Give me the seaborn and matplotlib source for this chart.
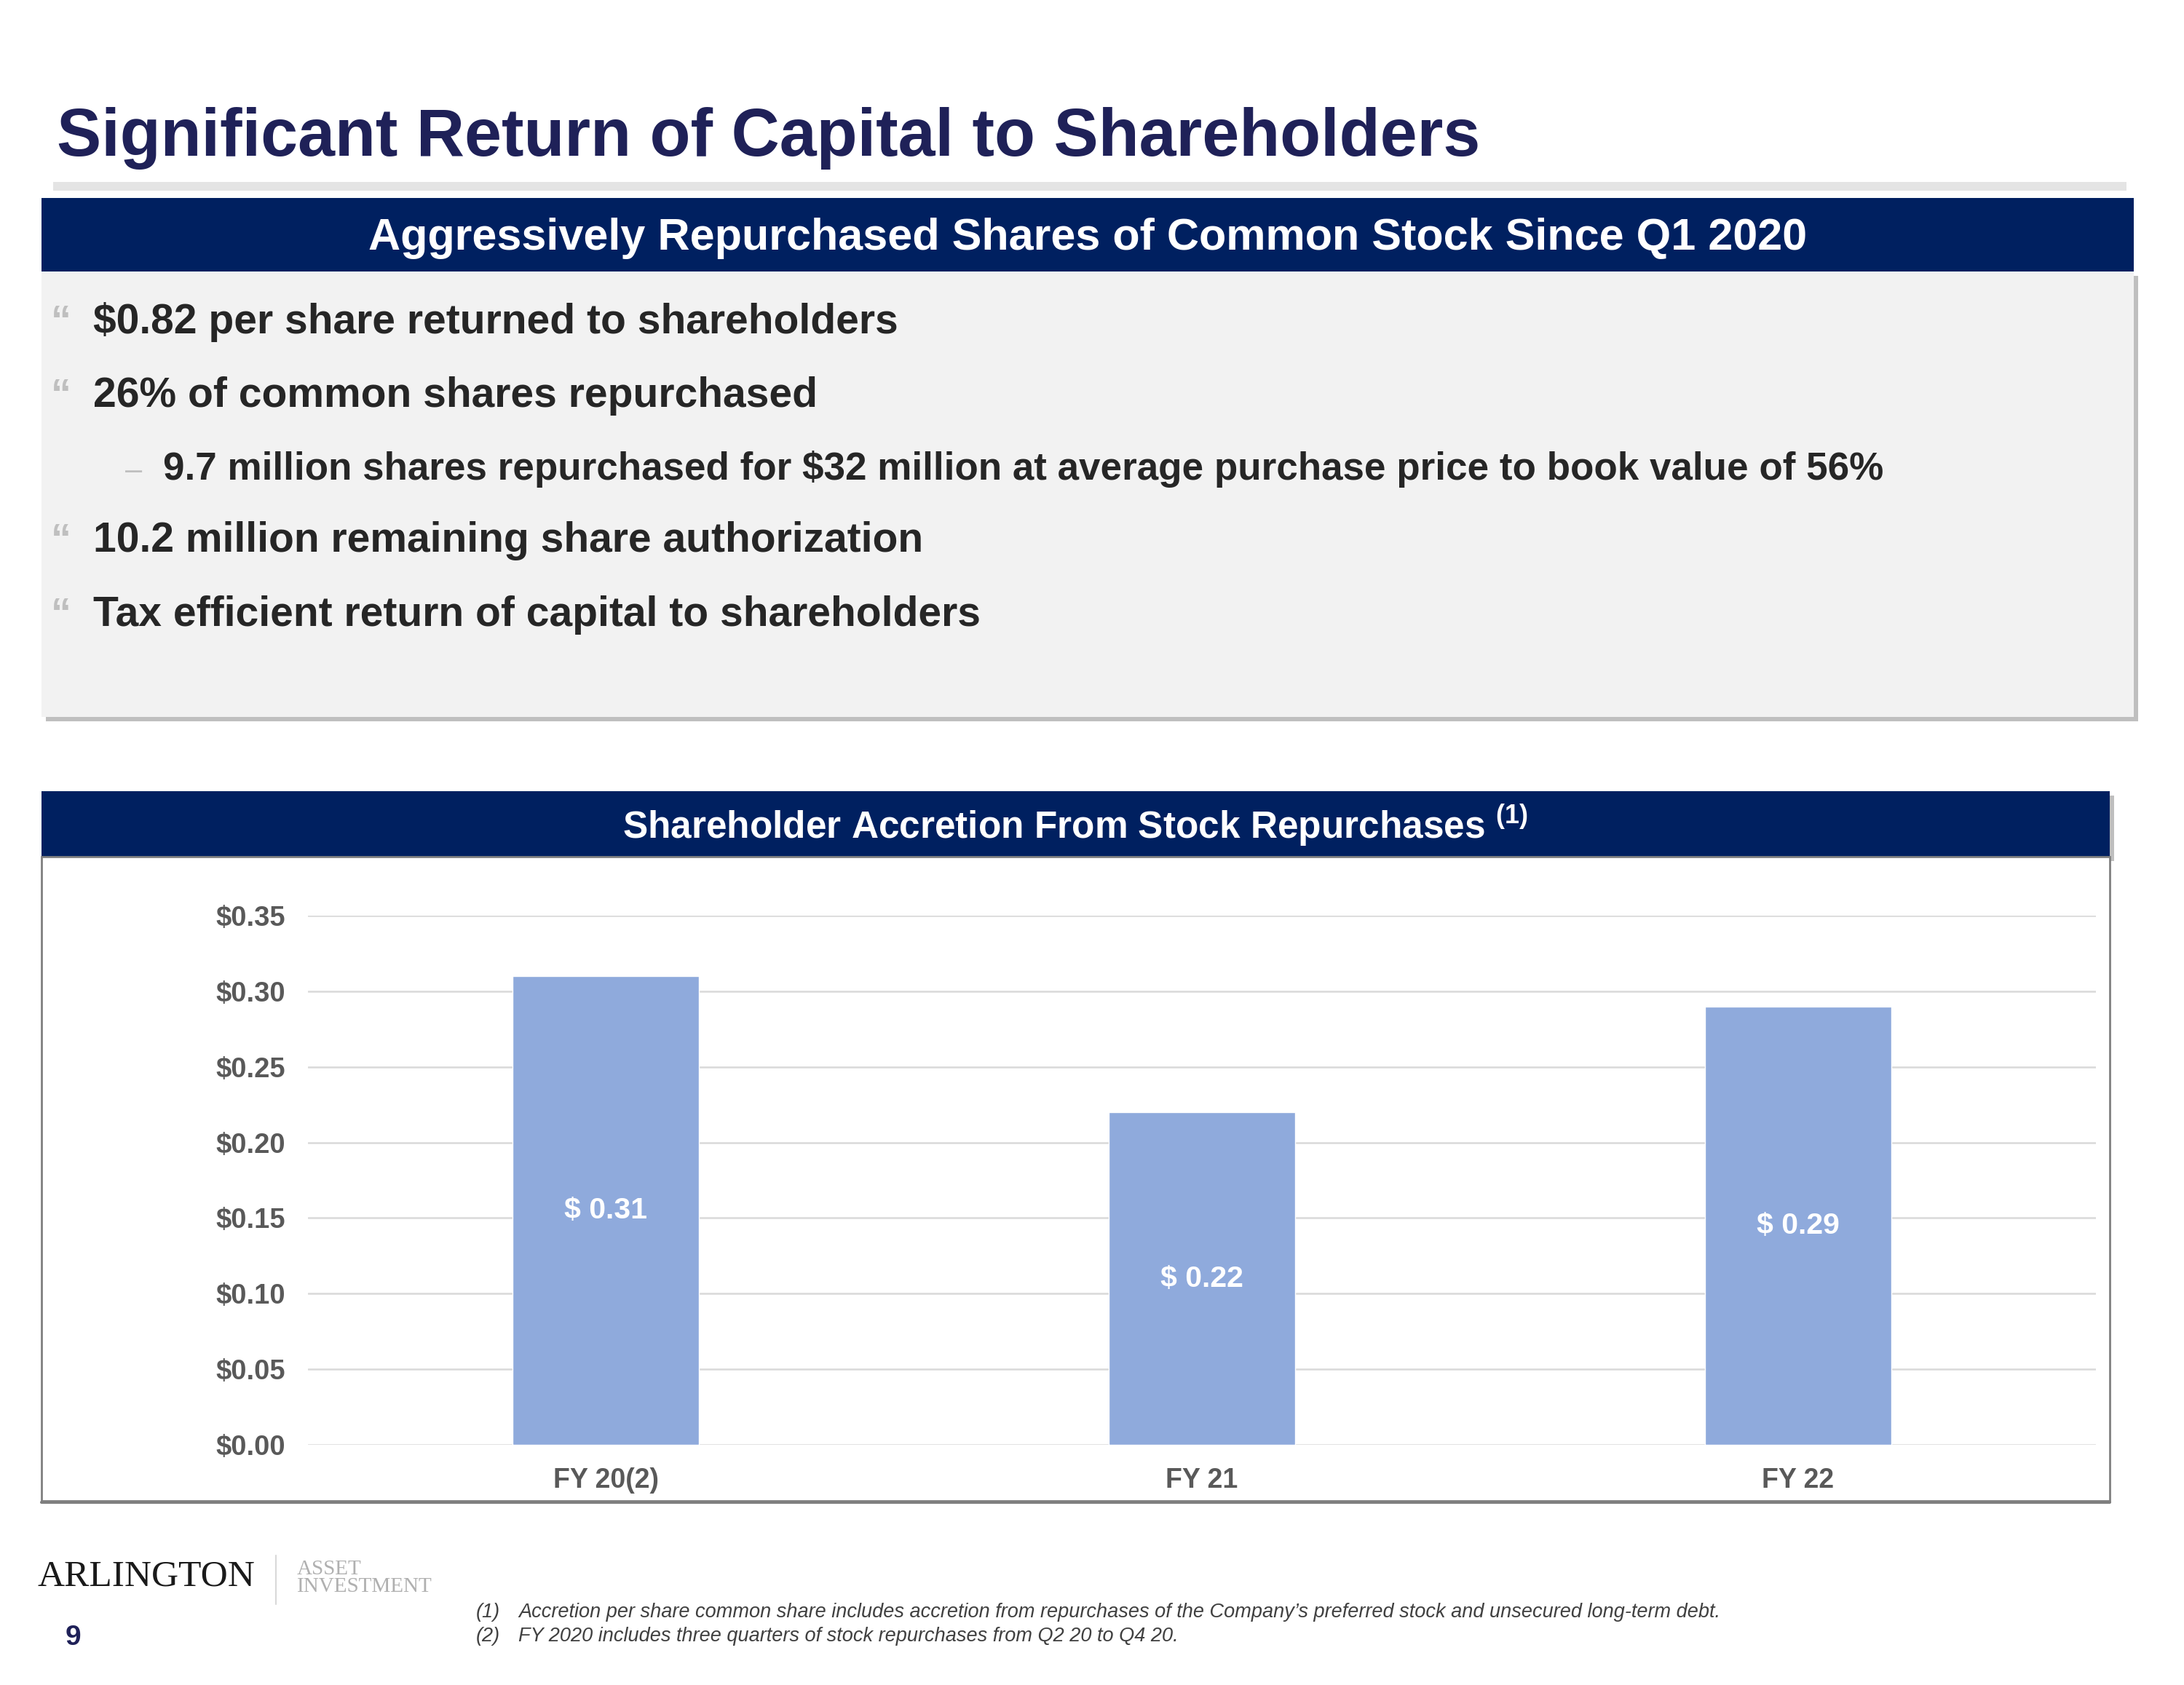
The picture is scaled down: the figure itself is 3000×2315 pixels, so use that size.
import matplotlib
matplotlib.use("Agg")
import matplotlib.pyplot as plt
from matplotlib.patches import Rectangle
from matplotlib.lines import Line2D
import pandas as pd
import seaborn as sns

# data
years = ["FY 20(2)", "FY 21", "FY 22"]
accretion = [0.31, 0.22, 0.29]
y_ticks = [0.00, 0.05, 0.10, 0.15, 0.20, 0.25, 0.30, 0.35]

title = "Significant Return of Capital to Shareholders"
box_header = "Aggressively Repurchased Shares of Common Stock Since Q1 2020"
bullets = [
    (0, "$0.82 per share returned to shareholders"),
    (0, "26% of common shares repurchased"),
    (1, "9.7 million shares repurchased for $32 million at average purchase price to book value of 56%"),
    (0, "10.2 million remaining share authorization"),
    (0, "Tax efficient return of capital to shareholders"),
]
chart_header = "Shareholder Accretion From Stock Repurchases $^{(1)}$"
footnotes = [
    ("(1)", "Accretion per share common share includes accretion from repurchases of the Company\u2019s preferred stock and unsecured long-term debt."),
    ("(2)", "FY 2020 includes three quarters of stock repurchases from Q2 20 to Q4 20."),
]

NAVY = "#002060"
TITLE_NAVY = "#1F2158"
BAR = "#8FAADC"
W, H = 3000, 2315

sns.set_theme(style="white")
plt.rcParams["font.family"] = ["Liberation Sans", "DejaVu Sans"]
plt.rcParams["mathtext.fontset"] = "custom"
plt.rcParams["mathtext.rm"] = "Liberation Sans:bold"
plt.rcParams["mathtext.it"] = "Liberation Sans:bold"

fig = plt.figure(figsize=(30, 23.15), dpi=100)


def fx(x):
    return x / W


def fy(y):
    return 1 - y / H


def rect(x0, y0, x1, y1, **kw):
    fig.add_artist(Rectangle((fx(x0), fy(y1)), fx(x1) - fx(x0), fy(y0) - fy(y1),
                             transform=fig.transFigure, **kw))


def text(x, y, s, **kw):
    fig.text(fx(x), fy(y), s, **kw)


# title and rule
text(78, 190, title, fontsize=66, fontweight="bold", color=TITLE_NAVY, va="center", ha="left")
rect(73, 250, 2921, 262, color="#E4E4E4", lw=0)

# top box with shadow
rect(63, 379, 2937, 991, color="#BFBFBF", lw=0)
rect(57, 373, 2931, 985, color="#F2F2F2", lw=0)
rect(57, 272, 2931, 373, color=NAVY, lw=0)
text(1494, 328, box_header, fontsize=44, fontweight="bold", color="white", ha="center", va="center")

# bullet baselines
bullet_y = [458, 559, 659, 758, 860]
for (level, s), y in zip(bullets, bullet_y):
    if level == 0:
        text(70, y, "\u201c", fontsize=40, fontweight="bold", color="#BFBFBF", ha="left", va="baseline")
        text(128, y, s, fontsize=41, fontweight="bold", color="#262626", ha="left", va="baseline")
    else:
        text(172, y - 12, "\u2013", fontsize=30, color="#BFBFBF", ha="left", va="center")
        text(224, y, s, fontsize=38.2, fontweight="bold", color="#262626", ha="left", va="baseline")

# chart panel
rect(63, 1093, 2904, 1183, color="#BFBFBF", lw=0)
rect(57, 1087, 2898, 1177, color=NAVY, lw=0)
text(1477, 1134, chart_header, fontsize=37, fontweight="bold", color="white", ha="center", va="center")
rect(57, 1177, 2898, 2062, facecolor="white", edgecolor="#808080", lw=2)
fig.add_artist(Line2D([fx(57), fx(2898)], [fy(2064), fy(2064)], color="#7F7F7F", lw=3,
                      transform=fig.transFigure))

ax = fig.add_axes([fx(423), fy(1985), fx(2879) - fx(423), fy(1258) - fy(1985)])
ax.set_zorder(5)
df = pd.DataFrame({"year": years, "value": accretion})
sns.barplot(data=df, x="year", y="value", color=BAR, width=0.3125, saturation=1, ax=ax, zorder=3)
ax.set_xlim(-0.5, 2.5)
ax.set_ylim(0, 0.35)
ax.set_yticks(y_ticks)
ax.set_yticklabels([f"${v:.2f}" for v in y_ticks])
ax.yaxis.grid(True, color="#D9D9D9", lw=1.8, zorder=0)
ax.set_axisbelow(True)
ax.set_xlabel("")
ax.set_ylabel("")
for s in ax.spines.values():
    s.set_visible(False)
ax.tick_params(axis="y", length=0, pad=22, labelsize=27.5, labelcolor="#595959")
ax.tick_params(axis="x", length=0, pad=22, labelsize=27, labelcolor="#595959")
for lbl in ax.get_xticklabels() + ax.get_yticklabels():
    lbl.set_fontweight("bold")
ax.patch.set_alpha(0)

for i, v in enumerate(accretion):
    ax.text(i, v / 2, f"$ {v:.2f}", ha="center", va="center", fontsize=29.5,
            fontweight="bold", color="white", zorder=5)

# footer
text(52, 2166, "ARLINGTON", fontsize=37, family=["Liberation Serif"], color="#1a1a1a", ha="left", va="center")
fig.add_artist(Line2D([fx(379), fx(379)], [fy(2137), fy(2204)], color="#D9D9D9", lw=1.5,
                      transform=fig.transFigure))
text(408, 2156, "ASSET", fontsize=21, family=["Liberation Serif"], color="#B0B0B0", ha="left", va="center")
text(408, 2180, "INVESTMENT", fontsize=21, family=["Liberation Serif"], color="#B0B0B0", ha="left", va="center")
text(100, 2250, "9", fontsize=28, fontweight="bold", color=TITLE_NAVY, ha="center", va="center")

for (num, s), y in zip(footnotes, [2215, 2248]):
    text(654, y, num, fontsize=19.5, style="italic", color="#404040", ha="left", va="center")
    text(712, y, s, fontsize=19.5, style="italic", color="#404040", ha="left", va="center")

fig.savefig("out.png", dpi=100)
plt.close(fig)
